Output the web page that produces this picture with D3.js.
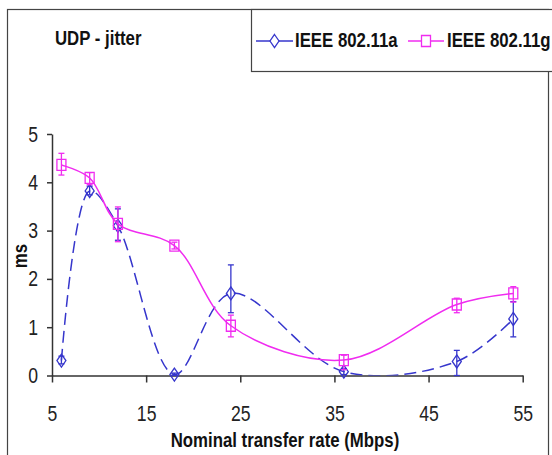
<!DOCTYPE html>
<html>
<head>
<meta charset="utf-8">
<script src="https://cdn.jsdelivr.net/npm/d3@7"></script>
<style>
    body { margin: 0; background: #fff; }
    text { font-family: "Liberation Sans", Arial, sans-serif; }
</style>
</head>
<body>
<div id="graph1"></div>
<script>
// UDP jitter per nominal rate, two standards
const rates = [6, 9, 12, 18, 24, 36, 48, 54];

const jitterA = [0.31, 3.82, 3.1, 0.02, 1.7, 0.08, 0.29, 1.17];
const errLowA = [0.24, 3.74, 2.8, 0.0, 1.3, 0.02, 0.0, 0.8];
const errHighA = [0.4, 3.92, 3.45, 0.05, 2.29, 0.14, 0.52, 1.53];

const jitterG = [4.36, 4.09, 3.14, 2.69, 1.03, 0.32, 1.47, 1.7];
const errLowG = [4.15, 3.95, 2.77, 2.62, 0.8, 0.12, 1.3, 1.52];
const errHighG = [4.6, 4.2, 3.49, 2.76, 1.25, 0.42, 1.6, 1.84];

const xTicks = [5, 15, 25, 35, 45, 55];
const yTicks = [0, 1, 2, 3, 4, 5];

const width = 552, height = 455;
const margin = {left: 52, right: 29.3, top: 134, bottom: 79.5};

// squeeze factor to mimic Arial Narrow
const narrow = 0.8;

let svg = d3.select("#graph1")
    .append("svg")
    .attr("width", width)
    .attr("height", height);

// outer frame
svg.append("rect")
    .attr("x", 7.5).attr("y", 9.5)
    .attr("width", 541).attr("height", 450)
    .attr("fill", "none")
    .attr("stroke", "#444")
    .attr("stroke-width", 1.2);

let x = d3.scaleLinear()
    .domain([5, 55])
    .range([margin.left, width - margin.right]);

let y = d3.scaleLinear()
    .domain([0, 5])
    .range([height - margin.bottom, margin.top]);

// axes
let xAxis = svg.append("g")
    .attr("transform", `translate(0, ${y(0)})`)
    .call(d3.axisBottom(x).tickValues(xTicks).tickSize(7).tickSizeOuter(0).tickFormat(d3.format("d")));
let yAxis = svg.append("g")
    .attr("transform", `translate(${x(5)}, 0)`)
    .call(d3.axisLeft(y).tickValues(yTicks).tickSize(5).tickSizeOuter(0).tickFormat(d3.format("d")));

[xAxis, yAxis].forEach(function (g) {
    g.select(".domain").attr("stroke", "#333").attr("stroke-width", 1.5);
    g.selectAll(".tick line").attr("stroke", "#333").attr("stroke-width", 1.5);
    g.selectAll(".tick text")
        .attr("fill", "#222")
        .style("font-size", "22px");
});
xAxis.selectAll(".tick text")
    .attr("y", 0).attr("dy", 0)
    .attr("transform", `translate(0, 45) scale(${narrow}, 1)`);
yAxis.selectAll(".tick text")
    .attr("x", 0)
    .attr("transform", `translate(-14, 0) scale(${narrow}, 1)`);

// clip the smoothed curves at zero
svg.append("clipPath").attr("id", "plotclip")
    .append("rect")
    .attr("x", 0).attr("y", 0)
    .attr("width", width).attr("height", y(0));

let blue = "#3636cc", pink = "#f02cf0";

let diamond = "M0,-6.5L4.5,0L0,6.5L-4.5,0Z";
let square = "M-4.5,-5.5H4.5V5.5H-4.5Z";

let line = d3.line()
    .x(function (d) { return x(d[0]); })
    .y(function (d) { return y(d[1]); })
    .curve(d3.curveCatmullRom.alpha(0.5));

let series = [
    {vals: jitterA, lo: errLowA, hi: errHighA, color: blue, dash: "12,6", shape: diamond},
    {vals: jitterG, lo: errLowG, hi: errHighG, color: pink, dash: null, shape: square}
];

series.forEach(function (s) {
    let pts = rates.map(function (r, i) { return [r, s.vals[i]]; });

    svg.append("path")
        .datum(pts)
        .attr("clip-path", "url(#plotclip)")
        .attr("d", line)
        .attr("fill", "none")
        .attr("stroke", s.color)
        .attr("stroke-width", 1.5)
        .attr("stroke-dasharray", s.dash);

    // error bars
    let eb = svg.append("g").attr("stroke", s.color).attr("stroke-width", 1.3);
    rates.forEach(function (r, i) {
        eb.append("line")
            .attr("x1", x(r)).attr("x2", x(r))
            .attr("y1", y(s.lo[i])).attr("y2", y(s.hi[i]));
        [s.lo[i], s.hi[i]].forEach(function (v) {
            eb.append("line")
                .attr("x1", x(r) - 3).attr("x2", x(r) + 3)
                .attr("y1", y(v)).attr("y2", y(v));
        });
    });

    // markers
    svg.append("g").selectAll("path")
        .data(pts)
        .enter()
        .append("path")
        .attr("transform", function (d) { return `translate(${x(d[0])}, ${y(d[1])})`; })
        .attr("d", s.shape)
        .attr("fill", "none")
        .attr("stroke", s.color)
        .attr("stroke-width", 1.3);
});

// helper for narrow text
function narrowText(px, py, str, size, anchor, rot) {
    let t = `translate(${px}, ${py})` + (rot ? ` rotate(${rot})` : "") + ` scale(${narrow}, 1)`;
    return svg.append("text")
        .attr("transform", t)
        .style("text-anchor", anchor || "start")
        .style("font-size", size + "px")
        .style("font-weight", "bold")
        .attr("fill", "#111")
        .text(str);
}

// title
narrowText(55, 45, "UDP - jitter", 21);

// legend box
svg.append("rect")
    .attr("x", 251.5).attr("y", 9.5)
    .attr("width", 320).attr("height", 62)
    .attr("fill", "#fff")
    .attr("stroke", "#444")
    .attr("stroke-width", 1.2);

let legendItems = [
    {label: "IEEE 802.11a", color: blue, shape: diamond, x0: 256, x1: 293, tx: 295},
    {label: "IEEE 802.11g", color: pink, shape: square, x0: 408, x1: 444, tx: 447}
];
legendItems.forEach(function (d) {
    svg.append("line")
        .attr("x1", d.x0).attr("x2", d.x1)
        .attr("y1", 41).attr("y2", 41)
        .attr("stroke", d.color).attr("stroke-width", 1.5);
    svg.append("path")
        .attr("transform", `translate(${(d.x0 + d.x1) / 2}, 41)`)
        .attr("d", d.shape)
        .attr("fill", "#fff")
        .attr("stroke", d.color)
        .attr("stroke-width", 1.3);
    narrowText(d.tx, 47, d.label, 21);
});

// axis titles
narrowText(285, 447, "Nominal transfer rate (Mbps)", 21, "middle");
narrowText(27, 256, "ms", 21, "middle", -90);
</script>
</body>
</html>
